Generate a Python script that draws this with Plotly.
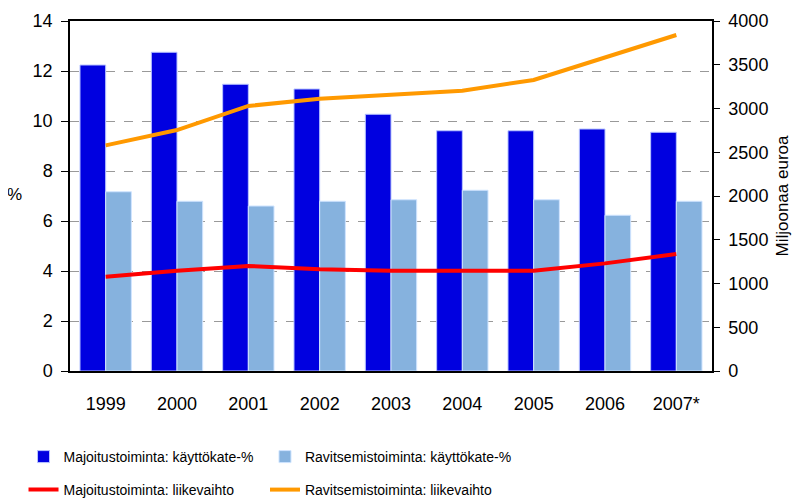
import plotly.graph_objects as go

years = ["1999", "2000", "2001", "2002", "2003", "2004", "2005", "2006", "2007*"]
majoitus_kk = [12.24, 12.75, 11.47, 11.28, 10.27, 9.61, 9.61, 9.68, 9.55]
ravitsemis_kk = [7.17, 6.79, 6.60, 6.79, 6.85, 7.23, 6.85, 6.23, 6.79]
majoitus_lv = [1078, 1146, 1200, 1162, 1146, 1146, 1146, 1230, 1337]
ravitsemis_lv = [2579, 2754, 3029, 3112, 3158, 3203, 3326, 3585, 3840]

fnt = "Liberation Sans, Arial, sans-serif"

fig = go.Figure()
fig.add_trace(go.Bar(x=years, y=majoitus_kk, name="Majoitustoiminta: käyttökate-%",
                     marker=dict(color="#0000e0", line=dict(color="#b8c4ff", width=1)),
                     legend="legend"))
fig.add_trace(go.Bar(x=years, y=ravitsemis_kk, name="Ravitsemistoiminta: käyttökate-%",
                     marker=dict(color="#86b2de", line=dict(color="#cfe4ff", width=1)),
                     legend="legend2"))
fig.add_trace(go.Scatter(x=years, y=majoitus_lv, name="Majoitustoiminta: liikevaihto",
                         mode="lines", line=dict(color="#ff0000", width=4), yaxis="y2",
                         legend="legend3"))
fig.add_trace(go.Scatter(x=years, y=ravitsemis_lv, name="Ravitsemistoiminta: liikevaihto",
                         mode="lines", line=dict(color="#ff9900", width=4), yaxis="y2",
                         legend="legend4"))

leg_common = dict(orientation="h", xanchor="left", yanchor="middle",
                  itemwidth=30, font=dict(family=fnt, size=14), bgcolor="rgba(0,0,0,0)")
col1_x = -0.0724
col2_x = 0.3037
row1_y = (363 - 449) / 350
row2_y = (363 - 482) / 350

fig.update_layout(
    width=784, height=491,
    margin=dict(l=62, r=80, t=13, b=128, autoexpand=False),
    paper_bgcolor="white", plot_bgcolor="white",
    barmode="group", bargap=0.28, bargroupgap=0,
    font=dict(family=fnt, size=18, color="#000"),
    xaxis=dict(showline=True, linecolor="black", linewidth=1.5, mirror=True,
               ticks="", tickfont=dict(size=18), showgrid=False, automargin=False,
               ticklabelstandoff=16),
    yaxis=dict(range=[0, 14], dtick=2, showline=True, linecolor="black", linewidth=1.5,
               ticks="outside", ticklen=7, tickcolor="black",
               showgrid=True, gridcolor="#999999", griddash="dash", gridwidth=1,
               zeroline=False, tickfont=dict(size=18), automargin=False,
               ticklabelstandoff=5),
    yaxis2=dict(range=[0, 4000], dtick=500, overlaying="y", side="right",
                showline=True, linecolor="black", linewidth=1.5,
                ticks="outside", ticklen=6, tickcolor="black", showgrid=False,
                zeroline=False, tickfont=dict(size=18), automargin=False,
                ticklabelstandoff=5,
                title=dict(text="Miljoonaa euroa", font=dict(size=17), standoff=13)),
    legend=dict(leg_common, x=col1_x, y=row1_y),
    legend2=dict(leg_common, x=col2_x, y=row1_y),
    legend3=dict(leg_common, x=col1_x, y=row2_y),
    legend4=dict(leg_common, x=col2_x, y=row2_y),
    showlegend=True,
)
fig.add_annotation(text="%", xref="paper", yref="paper", x=-0.0857, y=0.503,
                   showarrow=False, font=dict(size=17), xanchor="center")
fig.write_html("out.html")
